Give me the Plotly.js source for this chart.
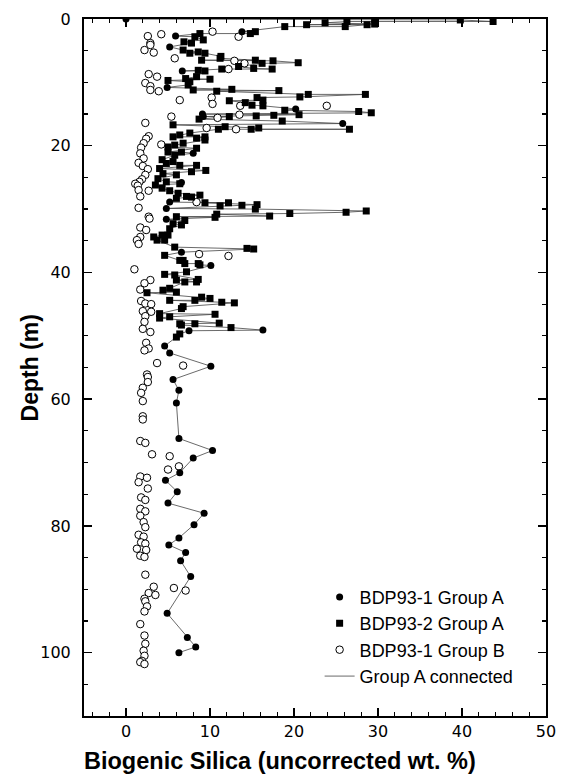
<!DOCTYPE html>
<html>
<head>
<meta charset="utf-8">
<script src="https://cdn.plot.ly/plotly-3.0.1.min.js"></script>
<style>
html,body{margin:0;padding:0;background:#fff;}
#chart{width:562px;height:779px;}
</style>
</head>
<body>
<div id="chart"></div>
<script>
// BDP93-1 Group A (filled circles): depth (m), biogenic silica (%)
const depth1A = [0, 2.0, 2.7, 4.4, 8.2, 10.8, 14.2, 15.0, 15.4, 16.5, 21.2, 25.8, 28.9, 29.9, 31.6, 36.8, 38.9,
  49.1, 49.2, 51.6, 52.7, 54.8, 56.9, 58.6, 60.6, 66.2, 68.1, 69.3, 71.6, 72.8, 74.6, 76.4, 78.0, 79.8,
  81.9, 83.0, 84.2, 85.5, 88.0, 93.8, 97.6, 99.1, 100.0];
const silica1A = [0, 13.8, 5.9, 5.2, 6.7, 4.9, 20.2, 9.1, 9.2, 25.8, 8.0, 6.6, 5.2, 4.8, 4.8, 6.6, 10.1,
  16.3, 7.5, 4.6, 5.2, 10.1, 5.6, 6.3, 6.0, 6.3, 10.3, 8.0, 6.4, 4.7, 6.1, 5.0, 9.3, 8.1,
  6.3, 5.1, 7.1, 6.5, 7.7, 4.9, 7.3, 8.3, 6.3];

// BDP93-2 Group A (filled squares)
const depth2A = [0.05, 0.15, 0.4, 0.4, 0.6, 0.8, 0.9, 0.9, 1.2, 1.2, 2.0, 2.3, 2.3, 2.8, 3.3, 3.6, 3.8,
  4.9, 5.2, 5.4, 5.4, 5.9, 6.2, 6.5, 6.5, 6.6, 6.9, 7.0, 7.5, 7.8, 7.9, 7.9, 8.1, 8.2, 9.1, 9.4, 9.5,
  9.7, 9.9, 10.4, 11.1, 11.2, 11.3, 11.4, 11.9, 11.9, 12.3, 12.4, 12.8, 12.9, 13.2, 13.6, 13.7, 14.4,
  14.6, 14.8, 15.1, 15.2, 15.3, 15.4, 15.8, 16.1, 16.7, 17.0, 17.2, 17.4, 17.4, 17.4, 18.0, 18.3,
  18.6, 18.6, 18.8, 19.1, 19.6, 19.9, 20.2, 20.4, 21.0, 21.0, 21.5, 22.2, 22.5, 22.8, 23.1, 23.1,
  23.6, 23.9, 24.1, 24.4, 24.6, 25.2, 25.7, 26.0, 26.2, 26.7, 27.1, 27.5, 27.8, 28.0, 28.1, 28.3,
  29.0, 29.0, 29.3, 29.4, 29.5, 30.0, 30.3, 30.5, 30.7, 30.8, 31.1, 31.2, 31.3, 31.8, 32.3, 32.5,
  33.1, 34.1, 34.1, 34.4, 34.9, 34.9, 36.0, 36.2, 36.3, 37.3, 38.1, 38.1, 38.6, 38.6, 38.8, 39.9,
  40.3, 40.4, 41.1, 41.2, 41.5, 41.5, 42.5, 42.8, 43.1, 43.2, 43.9, 44.1, 44.4, 44.4, 44.7, 44.8,
  45.4, 45.7, 46.5, 46.6, 47.0, 47.2, 48.0, 48.1, 48.1, 48.3, 48.7, 49.7, 50.2];
const silica2A = [29.6, 39.8, 43.7, 26.3, 23.7, 29.6, 21.5, 28.7, 26.1, 18.9, 15.4, 14.8, 8.8, 8.2, 9.2, 6.9, 7.8,
  6.8, 8.6, 7.6, 9.4, 11.3, 11.2, 15.4, 9.0, 17.5, 20.5, 16.2, 13.4, 15.2, 17.4, 11.4, 8.6, 9.4, 8.4, 7.1, 10.0,
  5.0, 7.6, 7.4, 12.6, 8.0, 18.2, 10.8, 21.7, 28.5, 20.7, 15.6, 16.3, 12.3, 14.2, 15.0, 16.3, 18.9,
  27.7, 29.2, 20.6, 17.6, 15.5, 12.3, 8.7, 18.6, 5.6, 11.8, 15.8, 14.9, 26.6, 11.0, 7.6, 6.4,
  5.6, 9.4, 8.4, 9.4, 6.8, 5.8, 5.0, 8.4, 5.0, 6.6, 5.8, 4.3, 5.6, 4.8, 6.4, 8.4,
  4.0, 9.5, 7.8, 4.4, 6.0, 3.8, 4.8, 6.4, 3.5, 4.3, 5.2, 6.2, 8.8, 7.2, 7.8, 6.0,
  12.2, 9.4, 15.6, 13.8, 11.2, 15.4, 28.6, 26.2, 19.5, 10.8, 17.1, 6.0, 10.6, 7.0, 5.6, 6.6,
  5.2, 5.0, 4.3, 3.3, 4.6, 3.7, 5.8, 14.4, 15.2, 4.6, 6.4, 6.8, 7.0, 8.6, 8.8, 7.2,
  4.6, 5.8, 8.6, 6.0, 8.4, 7.0, 5.2, 4.4, 6.0, 2.5, 9.0, 10.0, 8.2, 5.2, 11.4, 12.9,
  6.8, 6.6, 4.0, 10.6, 5.2, 4.0, 11.1, 8.2, 6.4, 6.6, 12.5, 6.4, 6.0];

// BDP93-1 Group B (open circles)
const depth1B = [2.0, 2.4, 2.7, 2.8, 3.8, 4.1, 4.9, 5.3, 6.2, 6.6, 7.0, 7.9, 8.7, 9.1, 10.1, 10.6, 11.2, 11.4,
  12.4, 12.8, 13.4, 13.7, 13.7, 15.1, 15.4, 15.6, 16.4, 17.2, 17.4, 18.5, 18.9, 19.6, 19.8, 20.3, 21.2,
  22.0, 22.7, 23.2, 23.7, 24.6, 25.3, 25.7, 26.0, 26.3, 27.0, 27.1, 28.0, 28.9, 29.8, 31.2, 31.5, 32.9,
  33.3, 34.4, 34.9, 35.5, 37.1, 37.4, 39.5, 41.2, 41.7, 42.7, 44.5, 44.9, 45.0, 46.1, 46.2, 46.9, 47.8,
  48.9, 49.4, 51.1, 52.0, 52.3, 54.3, 54.7, 56.1, 56.5, 57.3, 58.2, 59.0, 60.3, 62.7, 63.2, 66.6, 66.9,
  68.7, 69.0, 70.6, 71.1, 72.2, 72.4, 73.1, 74.1, 75.5, 75.9, 77.3, 77.7, 78.4, 79.4, 80.2, 81.4, 81.7,
  82.6, 82.8, 83.6, 83.8, 84.7, 84.9, 87.7, 89.6, 89.8, 90.2, 90.6, 90.9, 91.5, 91.9, 92.7, 93.5, 95.5,
  97.3, 98.6, 99.7, 100.5, 101.3, 101.5, 101.8];
const silica1B = [10.3, 4.2, 2.6, 13.4, 2.9, 2.9, 2.2, 3.3, 5.8, 12.9, 14.1, 12.2, 2.7, 3.7, 2.3, 2.9, 2.9, 3.9,
  10.2, 6.4, 10.3, 13.6, 23.9, 13.5, 5.4, 10.9, 2.3, 9.6, 13.1, 2.7, 2.4, 2.1, 4.2, 1.8, 1.7,
  2.1, 1.5, 2.0, 2.6, 2.3, 1.9, 1.6, 1.1, 1.4, 1.5, 2.7, 1.7, 8.4, 1.5, 2.7, 2.8, 1.7,
  2.4, 1.7, 1.3, 1.5, 8.7, 12.2, 1.0, 2.9, 2.2, 1.7, 1.8, 2.3, 3.0, 2.0, 3.0, 2.3, 2.2,
  2.0, 2.9, 2.4, 2.7, 2.2, 3.7, 6.8, 2.5, 2.6, 2.6, 2.0, 1.8, 2.0, 2.0, 2.0, 1.7, 2.3,
  3.1, 5.2, 6.3, 5.0, 1.7, 2.5, 1.5, 2.6, 1.8, 2.3, 1.7, 2.3, 1.7, 2.1, 2.3, 1.5, 2.1,
  1.8, 2.3, 1.3, 2.4, 1.7, 2.2, 2.3, 3.3, 5.7, 7.1, 2.7, 3.5, 2.2, 2.3, 2.5, 2.2, 1.7,
  2.2, 2.3, 2.1, 2.2, 1.9, 1.7, 2.2];

// Axis tick values
const xTickVals = [0, 10, 20, 30, 40, 50];
const yTickVals = [0, 20, 40, 60, 80, 100];

// Group A connected line: both Group A series merged in depth order
const groupA = depth1A.map((d, i) => [d, silica1A[i]])
  .concat(depth2A.map((d, i) => [d, silica2A[i]]))
  .sort((a, b) => a[0] - b[0]);
const lineDepth = groupA.map(p => p[0]);
const lineSilica = groupA.map(p => p[1]);

const traces = [
  {
    x: lineSilica, y: lineDepth, type: 'scatter', mode: 'lines',
    name: 'Group A connected', legendrank: 4,
    line: {color: '#444', width: 0.8}
  },
  {
    x: silica1B, y: depth1B, type: 'scatter', mode: 'markers',
    name: 'BDP93-1 Group B', legendrank: 3,
    marker: {symbol: 'circle', size: 7.5, color: '#fff', line: {color: '#000', width: 1}}
  },
  {
    x: silica2A, y: depth2A, type: 'scatter', mode: 'markers',
    name: 'BDP93-2 Group A', legendrank: 2,
    marker: {symbol: 'square', size: 7, color: '#000', line: {width: 0}}
  },
  {
    x: silica1A, y: depth1A, type: 'scatter', mode: 'markers',
    name: 'BDP93-1 Group A', legendrank: 1,
    marker: {symbol: 'circle', size: 7, color: '#000', line: {width: 0}}
  },
  // empty trace that carries the top/right tick axes
  {
    x: [], y: [], xaxis: 'x2', yaxis: 'y2', type: 'scatter', mode: 'markers',
    showlegend: false, hoverinfo: 'skip'
  }
];

const tickFont = {family: 'DejaVu Sans, sans-serif', size: 16, color: '#000'};
const xMinor = {dtick: 2, tick0: 0, ticks: 'inside', ticklen: 4, tickwidth: 1.2, tickcolor: '#000'};
const yMinor = {dtick: 5, tick0: 0, ticks: 'inside', ticklen: 4, tickwidth: 1.2, tickcolor: '#000'};
const titleFont = {family: 'Liberation Sans, Arial, sans-serif', size: 23, color: '#000'};

const layout = {
  width: 562, height: 779,
  margin: {l: 84, r: 16, t: 19, b: 63},
  paper_bgcolor: '#fff', plot_bgcolor: '#fff',
  showlegend: true,
  legend: {
    x: 0.51, y: 0.197, xanchor: 'left', yanchor: 'top',
    bgcolor: 'rgba(0,0,0,0)', borderwidth: 0,
    font: {family: 'Liberation Sans, Arial, sans-serif', size: 18, color: '#000'},
    tracegroupgap: 0
  },
  xaxis: {
    range: [-5, 50], tickmode: 'array', tickvals: xTickVals,
    ticks: 'inside', ticklen: 8, tickwidth: 1.5, tickcolor: '#000',
    minor: xMinor,
    showline: true, linewidth: 2, linecolor: '#000', mirror: true,
    showgrid: false, zeroline: false,
    tickfont: tickFont
  },
  xaxis2: {
    overlaying: 'x', side: 'top', anchor: 'y2',
    range: [-5, 50], tickmode: 'array', tickvals: xTickVals, showticklabels: false,
    ticks: 'inside', ticklen: 8, tickwidth: 1.5, tickcolor: '#000',
    minor: xMinor, showline: false, showgrid: false, zeroline: false
  },
  yaxis: {
    range: [110, 0], tickmode: 'array', tickvals: yTickVals,
    ticks: 'inside', ticklen: 8, tickwidth: 1.5, tickcolor: '#000',
    minor: yMinor,
    showline: true, linewidth: 2, linecolor: '#000', mirror: true,
    showgrid: false, zeroline: false,
    tickfont: tickFont, ticklabelstandoff: 8
  },
  yaxis2: {
    overlaying: 'y', side: 'right', anchor: 'x2',
    range: [110, 0], tickmode: 'array', tickvals: yTickVals, showticklabels: false,
    ticks: 'inside', ticklen: 8, tickwidth: 1.5, tickcolor: '#000',
    minor: yMinor, showline: false, showgrid: false, zeroline: false
  },
  annotations: [
    {
      text: '<b>Biogenic Silica (uncorrected wt. %)</b>',
      xref: 'paper', yref: 'paper', x: 0.424, y: -0.065,
      xanchor: 'center', yanchor: 'middle', showarrow: false,
      font: Object.assign({}, titleFont, {size: 23.5})
    },
    {
      text: '<b>Depth (m)</b>', textangle: -90,
      xref: 'paper', yref: 'paper', x: -0.117, y: 0.5,
      xanchor: 'center', yanchor: 'middle', showarrow: false,
      font: titleFont
    }
  ]
};

Plotly.newPlot('chart', traces, layout, {staticPlot: true, displayModeBar: false});
</script>
</body>
</html>
